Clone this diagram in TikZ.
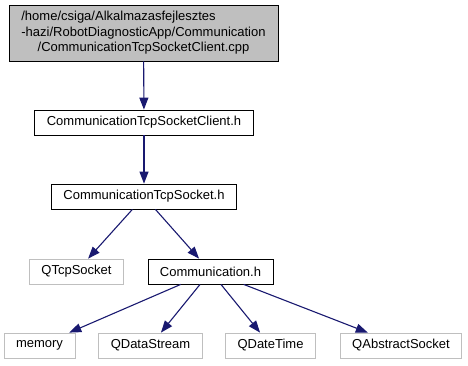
\documentclass[tikz,border=0pt]{standalone}
\usepackage{fontspec}
\setmainfont{Liberation Sans}
\usepackage{tikz}
\usetikzlibrary{arrows.meta}

% graph colours
\definecolor{edgeblue}{HTML}{191970}
\definecolor{extgray}{HTML}{BFBFBF}

\tikzset{
  file/.style={draw=black, line width=0.8pt, font=\fontsize{13}{15.5}\selectfont,
    inner xsep=12pt, inner ysep=0pt, minimum height=25pt},
  extfile/.style={file, draw=extgray},
  rootfile/.style={file, fill=extgray, inner xsep=8pt},
  incl/.style={draw=edgeblue, line width=1.1pt,
    -{Triangle[length=12pt,width=9pt]}}
}

\begin{document}
\begin{tikzpicture}[x=1pt,y=-1pt]
  \useasboundingbox (0,0) rectangle (468,365);

  % Source file at the top
  \node[rootfile, minimum width=269pt, minimum height=56pt] (root) at (143.5,33)
    {\begin{tabular}{@{}l@{}}
      /home/csiga/Alkalmazasfejlesztes\\
      -hazi/RobotDiagnosticApp/Communication\\
      \multicolumn{1}{@{}c@{}}{/CommunicationTcpSocketClient.cpp}
     \end{tabular}};

  % Project headers
  \node[file] (client) at (144,122.5) {CommunicationTcpSocketClient.h};
  \node[file] (sock) at (144,196.5) {CommunicationTcpSocket.h};
  \node[file] (comm) at (210.5,271.5) {Communication.h};

  % System / Qt headers
  \node[extfile] (qtcp) at (76.5,271.5) {QTcpSocket};
  \node[extfile] (memory) at (39.5,345.5) {memory};
  \node[extfile] (qds) at (150.5,345.5) {QDataStream};
  \node[extfile] (qdt) at (270.5,345.5) {QDateTime};
  \node[extfile] (qas) at (401,345.5) {QAbstractSocket};

  % Include edges
  \draw[incl] (root) -- (client);
  \draw[incl] (client) -- (sock);
  \draw[incl] (sock) -- (qtcp);
  \draw[incl] (sock) -- (comm);
  \foreach \dst in {memory,qds,qdt,qas}
    \draw[incl] (comm) -- (\dst);
\end{tikzpicture}
\end{document}
